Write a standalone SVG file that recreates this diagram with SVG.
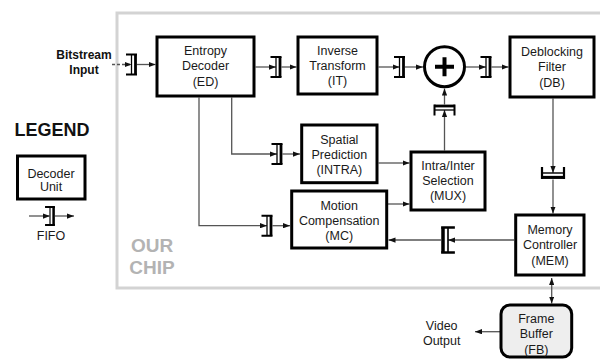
<svg xmlns="http://www.w3.org/2000/svg" width="600" height="360" viewBox="0 0 600 360">
<style>
.box{fill:#fff;stroke:#000;stroke-width:3}
.t{font-family:"Liberation Sans",Arial,sans-serif;font-size:12.5px;text-anchor:middle;fill:#1a1a1a}
.b{font-family:"Liberation Sans",Arial,sans-serif;font-weight:bold;text-anchor:middle}
.c{fill:none;stroke:#555;stroke-width:1.3}
.ff{fill:none;stroke:#000}
</style>
<defs>
<marker id="ah" viewBox="0 0 8 6" refX="8" refY="3" markerWidth="7" markerHeight="5.5" orient="auto" markerUnits="userSpaceOnUse"><path d="M0,0 L8,3 L0,6 z" fill="#111"/></marker>
<marker id="as" viewBox="0 0 8 6" refX="0" refY="3" markerWidth="7" markerHeight="5.5" orient="auto" markerUnits="userSpaceOnUse"><path d="M8,0 L0,3 L8,6 z" fill="#111"/></marker>
<g id="fifo" class="ff">
<path d="M-5.5,-10 H5.5 M-5.5,10 H5.5" stroke-width="2"/>
<path d="M0,-10 V10" stroke-width="1.3"/>
<path d="M4,-10 V10" stroke-width="2.8"/>
</g>
</defs>
<rect width="600" height="360" fill="#fff"/>
<rect x="117" y="13" width="490" height="275" fill="none" stroke="#d3d3d3" stroke-width="3"/>
<g id="chip-label" class="b" fill="#b3b3b3" font-size="19">
<text x="152" y="251.5">OUR</text>
<text x="152" y="274">CHIP</text>
</g>
<g id="legend">
<text x="52" y="136" class="b" font-size="18" fill="#111">LEGEND</text>
<rect x="17.5" y="156" width="67.5" height="43" class="box"/>
<text x="51" y="177.5" class="t" font-size="12">Decoder</text>
<text x="51" y="191" class="t" font-size="12">Unit</text>
<use href="#fifo" transform="translate(50,216) scale(0.9)"/>
<text x="51" y="239.5" class="t" font-size="12">FIFO</text>
</g>
<g id="input-label" class="b" font-size="12" fill="#111">
<text x="84" y="59">Bitstream</text>
<text x="84" y="74">Input</text>
</g>
<g id="connectors">
<path class="c" d="M112,64.5 H131.5" stroke-dasharray="3,2" marker-end="url(#ah)"/>
<path class="c" d="M137,64.5 H155.5" marker-end="url(#ah)"/>
<path class="c" d="M255.5,67 H276" marker-end="url(#ah)"/>
<path class="c" d="M281.5,67 H296.5" marker-end="url(#ah)"/>
<path class="c" d="M378.5,67 H399.5" marker-end="url(#ah)"/>
<path class="c" d="M405,67 H423" marker-end="url(#ah)"/>
<path class="c" d="M466,67 H486" marker-end="url(#ah)"/>
<path class="c" d="M491.5,67 H508.5" marker-end="url(#ah)"/>
<path class="c" d="M553,98.5 V173" marker-end="url(#ah)"/>
<path class="c" d="M553,179.5 V213.5" marker-end="url(#ah)"/>
<path class="c" d="M514,240 H448" marker-end="url(#ah)"/>
<path class="c" d="M441,240 H388.5" marker-end="url(#ah)"/>
<path class="c" d="M444.5,150.5 V110" marker-end="url(#ah)"/>
<path class="c" d="M444.5,104.5 V88.5" marker-end="url(#ah)"/>
<path class="c" d="M231.7,97.5 V154 H277" marker-end="url(#ah)"/>
<path class="c" d="M282.5,154 H300" marker-end="url(#ah)"/>
<path class="c" d="M199,97.5 V225.7 H267" marker-end="url(#ah)"/>
<path class="c" d="M272.5,225.7 H290" marker-end="url(#ah)"/>
<path class="c" d="M378.5,163 H409.5" marker-end="url(#ah)"/>
<path class="c" d="M388,204 H409.5" marker-end="url(#ah)"/>
<path class="c" d="M551.7,278 V303.5" marker-start="url(#as)" marker-end="url(#ah)"/>
<path class="c" d="M500,331.7 H475" marker-end="url(#ah)"/>
<path class="c" d="M29,216 H50" marker-end="url(#ah)"/>
<path class="c" d="M55,216 H74" marker-end="url(#ah)"/>
</g>
<g id="fifos">
<use href="#fifo" transform="translate(131.5,64.5)"/>
<use href="#fifo" transform="translate(276,67)"/>
<use href="#fifo" transform="translate(399.5,67)"/>
<use href="#fifo" transform="translate(486,67)"/>
<use href="#fifo" transform="translate(444.5,110) rotate(-90)"/>
<use href="#fifo" transform="translate(553,173) rotate(90) scale(1.1)"/>
<use href="#fifo" transform="translate(448,240) rotate(180) scale(1.25)"/>
<use href="#fifo" transform="translate(277,154)"/>
<use href="#fifo" transform="translate(267,225.7)"/>
</g>
<g id="ED">
<rect x="157" y="37" width="97" height="59" class="box"/>
<text x="205.5" y="54.5" class="t">Entropy</text>
<text x="205.5" y="70" class="t">Decoder</text>
<text x="205.5" y="85.5" class="t">(ED)</text>
</g>
<g id="IT">
<rect x="298" y="37" width="79" height="57" class="box"/>
<text x="337.5" y="54.5" class="t">Inverse</text>
<text x="337.5" y="69.5" class="t">Transform</text>
<text x="337.5" y="84.5" class="t">(IT)</text>
</g>
<g id="ADD">
<circle cx="444.5" cy="66.7" r="20" fill="#fff" stroke="#000" stroke-width="3"/>
<path d="M435,66.7 H454 M444.5,57.2 V76.2" stroke="#000" stroke-width="4"/>
</g>
<g id="DB">
<rect x="510" y="37" width="84" height="60" class="box"/>
<text x="552" y="55.5" class="t">Deblocking</text>
<text x="552" y="71" class="t">Filter</text>
<text x="552" y="86.5" class="t">(DB)</text>
</g>
<g id="INTRA">
<rect x="301.7" y="125" width="75.3" height="57.7" class="box"/>
<text x="339.3" y="143.5" class="t">Spatial</text>
<text x="339.3" y="158.5" class="t">Prediction</text>
<text x="339.3" y="174" class="t">(INTRA)</text>
</g>
<g id="MUX">
<rect x="411" y="152" width="74" height="58" class="box"/>
<text x="448" y="169.5" class="t">Intra/Inter</text>
<text x="448" y="184.5" class="t">Selection</text>
<text x="448" y="199.5" class="t">(MUX)</text>
</g>
<g id="MC">
<rect x="291.7" y="191" width="95" height="57" class="box"/>
<text x="339.2" y="209.5" class="t">Motion</text>
<text x="339.2" y="224.5" class="t">Compensation</text>
<text x="339.2" y="239.5" class="t">(MC)</text>
</g>
<g id="MEM">
<rect x="515.7" y="215" width="68.3" height="60" class="box"/>
<text x="550" y="233.5" class="t">Memory</text>
<text x="550" y="249" class="t">Controller</text>
<text x="550" y="264.5" class="t">(MEM)</text>
</g>
<g id="FB">
<rect x="501" y="305" width="70.7" height="52" rx="9" fill="#eeeeee" stroke="#000" stroke-width="3"/>
<text x="536.3" y="322.5" class="t">Frame</text>
<text x="536.3" y="338" class="t">Buffer</text>
<text x="536.3" y="353.5" class="t">(FB)</text>
</g>
<g id="video-output">
<text x="441.7" y="330" class="t">Video</text>
<text x="441.7" y="345" class="t">Output</text>
</g>
</svg>
